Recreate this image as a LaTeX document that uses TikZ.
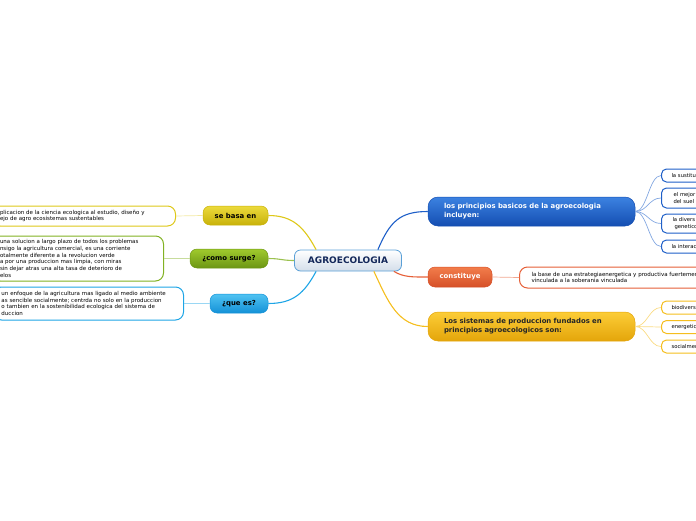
\documentclass[tikz,border=0pt]{standalone}
\usepackage{fontspec}
\setmainfont{DejaVu Sans}
\usetikzlibrary{positioning}
\definecolor{mynavy}{RGB}{20,40,90}
\definecolor{mainedge}{RGB}{90,160,215}
\definecolor{mainbot}{RGB}{212,222,234}
\definecolor{myyellow}{RGB}{222,200,25}
\definecolor{yeltop}{RGB}{236,218,60}
\definecolor{yelbot}{RGB}{200,178,10}
\definecolor{mygreen}{RGB}{130,178,35}
\definecolor{grntop}{RGB}{160,202,45}
\definecolor{grnbot}{RGB}{108,150,20}
\definecolor{mysky}{RGB}{30,165,230}
\definecolor{skytop}{RGB}{80,195,242}
\definecolor{skybot}{RGB}{20,145,215}
\definecolor{myblue}{RGB}{30,95,200}
\definecolor{blutop}{RGB}{60,130,225}
\definecolor{blubot}{RGB}{20,78,178}
\definecolor{myred}{RGB}{230,95,55}
\definecolor{redtop}{RGB}{242,125,75}
\definecolor{redbot}{RGB}{214,80,40}
\definecolor{myamber}{RGB}{245,190,30}
\definecolor{ambtop}{RGB}{252,205,55}
\definecolor{ambbot}{RGB}{228,165,10}
\tikzset{
  mainbox/.style={rectangle, draw=mainedge, top color=white, bottom color=mainbot,
    minimum width=107pt, minimum height=21pt, rounded corners=6pt, line width=0.8pt,
    font=\fontsize{9}{10}\selectfont\bfseries, text=mynavy},
  topic/.style={rectangle, rounded corners=7pt, line width=0.5pt, inner sep=0pt,
    minimum height=19pt, font=\fontsize{6.9}{8}\selectfont\bfseries},
  bigtopic/.style={rectangle, rounded corners=10pt, line width=0.5pt, inner xsep=16pt,
    text width=175pt, align=left, minimum height=29pt,
    font=\fontsize{6.9}{9}\selectfont\bfseries},
  note/.style={rectangle, fill=white, rounded corners=8pt, line width=1pt,
    inner xsep=8pt, align=left, font=\fontsize{5.5}{6.8}\selectfont},
  leaf/.style={rectangle, fill=white, rounded corners=5pt, line width=1pt, anchor=west,
    inner xsep=10pt, text width=40pt, align=left, font=\fontsize{5.3}{6.5}\selectfont},
  link/.style={line width=1.1pt},
  sublink/.style={line width=0.7pt}
}
\begin{document}
\begin{tikzpicture}[x=1pt,y=-1pt]
  \useasboundingbox (0,0) rectangle (696,520);

  % Central topic
  \node[mainbox] (agro) at (348,260.5) {AGROECOLOGIA};

  % Left branches
  \node[topic, draw=yelbot, top color=yeltop, bottom color=yelbot, minimum width=65pt] (basa) at (235.5,215.5) {se basa en};
  \node[topic, draw=grnbot, top color=grntop, bottom color=grnbot, minimum width=78pt] (surge) at (229,258.5) {¿como surge?};
  \node[topic, draw=skybot, top color=skytop, bottom color=skybot, minimum width=58pt] (quees) at (239,303.5) {¿que es?};

  \node[note, draw=myyellow, anchor=east, text width=167.5pt, minimum height=20pt] (basatxt) at (176,216)
    {plicacion de la ciencia ecologica al estudio, diseño y\\ejo de agro ecosistemas sustentables};
  \node[note, draw=mygreen, anchor=east, text width=155.5pt, minimum height=45pt] (surgetxt) at (164,258.5)
    {una solucion a largo plazo de todos los problemas\\nsigo la agricultura comercial, es una corriente\\otalmente diferente a la revolucion verde\\a por una produccion mas limpia, con miras\\ sin dejar atras una alta tasa de deterioro de\\elos};
  \node[note, draw=mysky, anchor=east, text width=174pt, minimum height=33pt] (queestxt) at (184,303.5)
    {un enfoque de la agricultura mas ligado al medio ambiente\\as sencible socialmente; centrda no solo en la produccion\\o tambien en la sostenibilidad ecologica del sistema de\\duccion};

  % Right branches
  \node[bigtopic, draw=blubot, top color=blutop, bottom color=blubot, text=white] (princ) at (531.5,211.5)
    {los principios basicos de la agroecologia\\incluyen:};
  \node[topic, draw=redbot, top color=redtop, bottom color=redbot, text=white, minimum width=64pt, minimum height=20pt] (const) at (460,277) {constituye};
  \node[bigtopic, draw=ambbot, top color=ambtop, bottom color=ambbot, text=black!85] (sist) at (531.5,326.5)
    {Los sistemas de produccion fundados en\\principios agroecologicos son:};

  \node[note, draw=myred, anchor=west, inner xsep=12pt, text width=190pt, minimum height=21pt] (consttxt) at (519,277.5)
    {la base de una estrategiaenergetica y productiva fuertemen\\vinculada a la soberania vinculada};

  % Leaves of the principles
  \node[leaf, draw=myblue, minimum height=13pt] (sust) at (661,175.5) {la sustitu};
  \node[leaf, draw=myblue, minimum height=20pt] (mejor) at (661,198) {\hspace*{2pt}el mejor\\\hspace*{2pt}del suel};
  \node[leaf, draw=myblue, minimum height=19pt] (divers) at (661,223.5) {\hspace*{1pt}la divers\\\hspace*{3pt}genetico};
  \node[leaf, draw=myblue, minimum height=13pt] (interac) at (661,246.5) {la interac};

  % Leaves of the systems
  \node[leaf, draw=myamber, minimum height=13pt] (biodiv) at (661,307.5) {biodivers};
  \node[leaf, draw=myamber, minimum height=13pt] (energ) at (661,327) {energetic};
  \node[leaf, draw=myamber, minimum height=13pt] (social) at (661,346.5) {socialmen};

  % Main links
  \draw[link, draw=myyellow] ([xshift=22pt]agro.north west) .. controls +(-12,-22) and +(25,0) .. (basa.east);
  \draw[link, draw=mygreen!80] (agro.west) .. controls +(-12,0) and +(12,0) .. (surge.east);
  \draw[link, draw=mysky] ([xshift=22pt]agro.south west) .. controls +(-12,22) and +(25,0) .. (quees.east);
  \draw[link, draw=myblue] ([xshift=-24pt]agro.north east) .. controls +(12,-28) and +(-28,0) .. (princ.west);
  \draw[link, draw=myred] ([xshift=-8pt]agro.south east) .. controls +(10,6) and +(-15,0) .. (const.west);
  \draw[link, draw=myamber] ([xshift=-28pt]agro.south east) .. controls +(14,30) and +(-30,0) .. (sist.west);

  % Sub links
  \draw[sublink, draw=myyellow!40] (basa.west) -- (basatxt.east);
  \draw[sublink, draw=mygreen!45] (surge.west) -- (surgetxt.east);
  \draw[sublink, draw=mysky!45] (quees.west) -- (queestxt.east);
  \draw[sublink, draw=myred!55] (const.east) -- (consttxt.west);
  \foreach \n in {sust,mejor,divers,interac}
    \draw[sublink, draw=myblue!55] (princ.east) .. controls +(12,0) and +(-12,0) .. (\n.west);
  \foreach \n in {biodiv,energ,social}
    \draw[sublink, draw=myamber!55] (sist.east) .. controls +(12,0) and +(-12,0) .. (\n.west);
\end{tikzpicture}
\end{document}
